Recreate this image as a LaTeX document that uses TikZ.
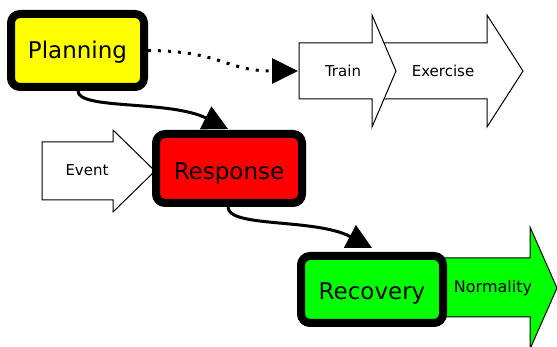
\documentclass[tikz,border=0pt]{standalone}
\usepackage{fontspec}
\setmainfont{DejaVu Sans}
\usetikzlibrary{arrows.meta}
\definecolor{pyellow}{RGB}{255,255,0}
\definecolor{pred}{RGB}{255,0,0}
\definecolor{pgreen}{RGB}{0,255,0}
\tikzset{
  phase/.style={draw=black, line width=8pt, rounded corners=9pt, inner sep=0pt,
    font=\fontsize{23}{27}\selectfont},
  flowarrow/.style={draw=black, line width=1pt, fill=white, line join=miter},
  smalllabel/.style={font=\fontsize{15}{18}\selectfont, inner sep=0pt},
  conn/.style={line width=3pt, -{Triangle[length=25pt,width=25pt]}},
}
\begin{document}
\begin{tikzpicture}[x=1pt,y=-1pt]
\useasboundingbox (0,0) rectangle (557,347);
% background arrows
\draw[flowarrow] (372,43) -- (487,43) -- (487,15) -- (523,71) -- (487,127) -- (487,99) -- (372,99) -- cycle;
\draw[flowarrow] (299,43) -- (372,43) -- (372,15) -- (396,71) -- (372,127) -- (372,99) -- (299,99) -- cycle;
\node[smalllabel] (train) at (343,71) {Train};
\node[smalllabel] (exercise) at (443,71) {Exercise};
\draw[flowarrow] (42,142) -- (113,142) -- (113,130) -- (155,171) -- (113,212) -- (113,200) -- (42,200) -- cycle;
\node[smalllabel] (event) at (87,170) {Event};
\draw[flowarrow, fill=pgreen] (440,258) -- (530,258) -- (530,227) -- (557,288) -- (530,349) -- (530,317) -- (440,317) -- cycle;
\node[smalllabel, font=\fontsize{16}{19}\selectfont] (normality) at (493,288) {Normality};
% phase boxes
\node[phase, fill=pyellow, minimum width=133pt, minimum height=73pt, text height=17.5pt, text depth=2pt] (planning) at (77.5,50.5) {Planning};
\node[phase, fill=pred, minimum width=146pt, minimum height=69pt, text height=23pt, text depth=0pt] (response) at (229,168.5) {Response};
\node[phase, fill=pgreen, minimum width=142pt, minimum height=67pt, text height=21pt, text depth=0pt] (recovery) at (372,289.5) {Recovery};
% connector end points
\coordinate (trainin) at (298,71);
\coordinate (respin) at (228,129);
\coordinate (recin) at (372,248);
% connectors
\draw[line width=3pt, dash pattern=on 3pt off 7pt, -{Triangle[length=26pt,width=25pt]}]
  (planning.east) .. controls (222,51) and (225,71) .. (trainin);
\draw[conn] ([xshift=0.5pt]planning.south) .. controls (78,110) and (170,100) .. (respin);
\draw[conn] ([xshift=-1pt]response.south) .. controls (228,228) and (315,218) .. (recin);
\end{tikzpicture}
\end{document}
